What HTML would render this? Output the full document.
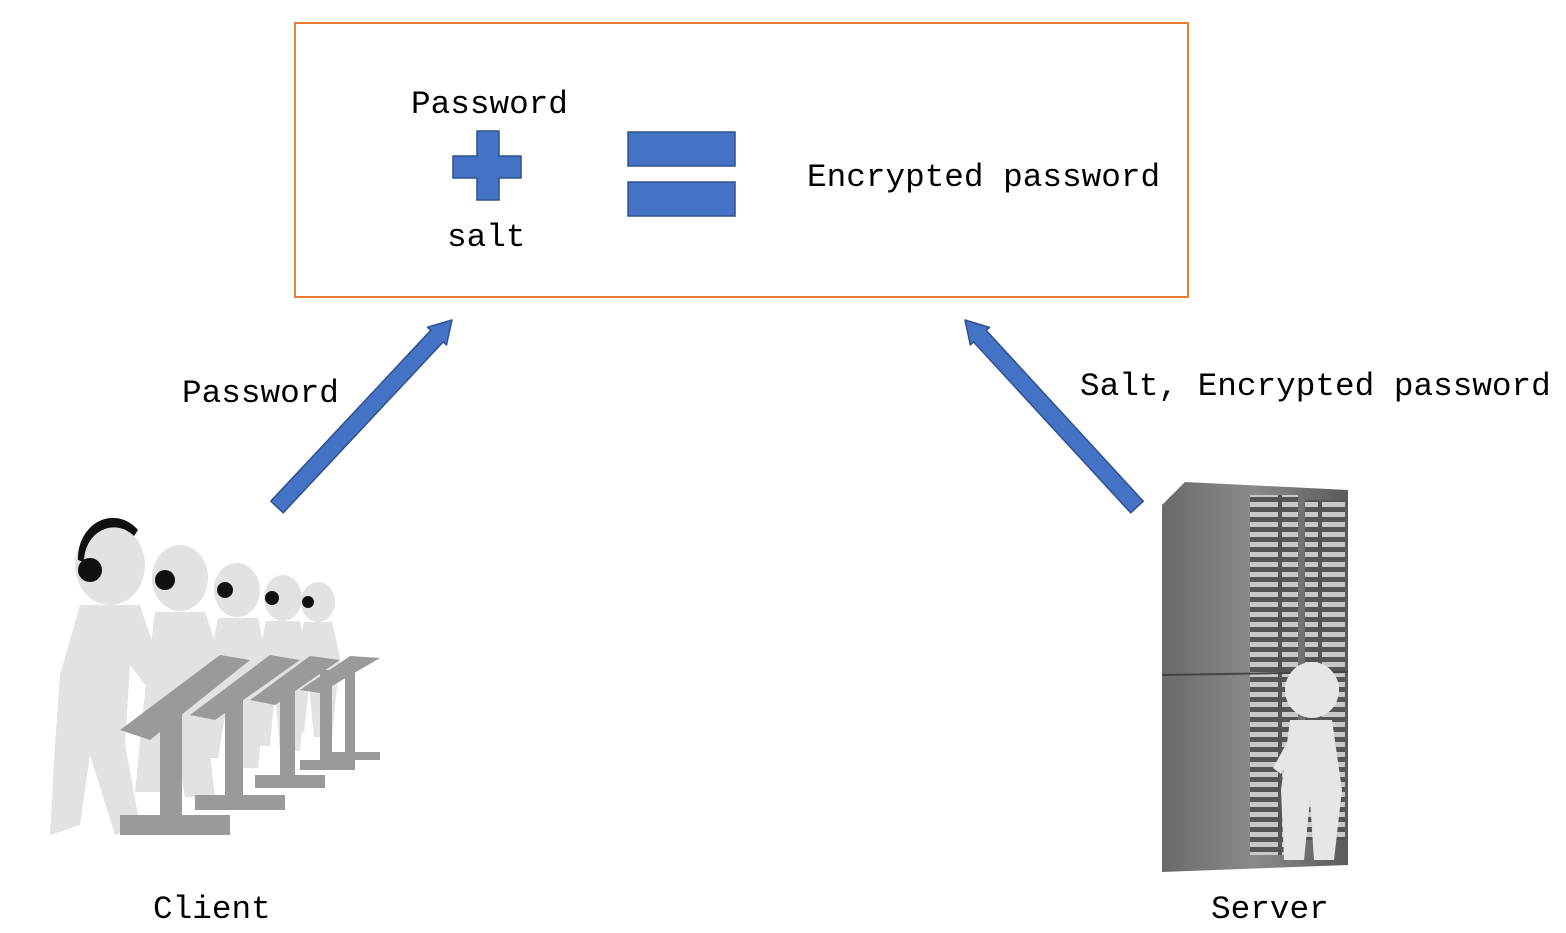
<!DOCTYPE html>
<html><head><meta charset="utf-8"><style>
body{margin:0;background:#fff;width:1566px;height:933px;overflow:hidden;position:relative}
.t{position:absolute;font-family:"Liberation Mono",monospace;font-size:32.7px;color:#000;white-space:nowrap;line-height:1}
</style></head><body>
<svg width="1566" height="933" style="position:absolute;left:0;top:0">
<defs>
<linearGradient id="rack" x1="0" x2="1"><stop offset="0" stop-color="#6a6a6a"/><stop offset="0.5" stop-color="#8a8a8a"/><stop offset="1" stop-color="#5a5a5a"/></linearGradient>
<pattern id="slots" width="40" height="10" patternUnits="userSpaceOnUse"><rect width="40" height="10" fill="#555"/><rect x="2" y="2" width="36" height="5" fill="#c8c8c8"/></pattern>
</defs>
<rect x="295" y="23" width="893" height="274" fill="none" stroke="#ed7d31" stroke-width="2"/>
<path d="M477 131h22v25h22v22h-22v22h-22v-22h-24v-22h24z" fill="#4472c4" stroke="#2f528f" stroke-width="1.5"/>
<rect x="628" y="132" width="107" height="34" fill="#4472c4" stroke="#2f528f" stroke-width="1.5"/>
<rect x="628" y="182" width="107" height="34" fill="#4472c4" stroke="#2f528f" stroke-width="1.5"/>
<polygon points="283.2,512.8 443.2,341.9 446.5,345 452,320 427.5,327.2 430.8,330.3 270.8,501.2" fill="#4472c4" stroke="#2f528f" stroke-width="1.5" stroke-linejoin="round"/>
<polygon points="1143.3,501.2 986.2,330.4 989.5,327.4 965,320 970.3,345 973.6,342 1130.7,512.8" fill="#4472c4" stroke="#2f528f" stroke-width="1.5" stroke-linejoin="round"/>
<polygon points="1162,505 1185,482 1348,490 1348,865 1162,872" fill="url(#rack)"/>
<rect x="1250" y="495" width="48" height="360" fill="url(#slots)"/>
<rect x="1305" y="500" width="40" height="340" fill="url(#slots)"/>
<line x1="1162" y1="675" x2="1348" y2="672" stroke="#444" stroke-width="2"/>
<g fill="#e6e6e6">
<ellipse cx="1312" cy="690" rx="27" ry="28"/>
<path d="M1290 720h42l10 70l-8 70h-20l-4-60l-6 60h-20l-3-70z"/>
<path d="M1295 728l-22 40l8 6l22-34z"/>
</g>
<g fill="#e2e2e2">
<ellipse cx="110" cy="565" rx="35" ry="40"/>
<path d="M80 605h60l20 60l-15 20l-15-20l-5 80l15 80l-25 10l-25-80l-10 70l-30 10l5-90l5-70z"/>
<ellipse cx="180" cy="578" rx="28" ry="33"/>
<path d="M155 612h50l15 45l-15 55l10 85h-30l-15-85l-10 80h-25l10-100z"/>
<ellipse cx="237" cy="590" rx="23" ry="27"/>
<path d="M218 618h40l10 50l-10 100h-25l-5-70l-10 60h-20l10-90z"/>
<ellipse cx="283" cy="598" rx="19" ry="23"/>
<path d="M266 621h34l8 40l-8 90h-20l-5-60l-5 55h-18l5-80z"/>
<ellipse cx="318" cy="602" rx="17" ry="20"/>
<path d="M304 622h28l8 35l-8 80h-18l-5-50l-5 45h-14l5-70z"/>
</g>
<g fill="#111"><path d="M78 560a35 40 0 0 1 60-30l-4 6a30 34 0 0 0-50 26z"/><circle cx="90" cy="570" r="12"/>
<circle cx="165" cy="580" r="10"/><circle cx="225" cy="590" r="8"/><circle cx="272" cy="598" r="7"/><circle cx="308" cy="602" r="6"/></g>
<g fill="#9a9a9a">
<polygon points="120,730 220,655 250,660 150,740"/><rect x="160" y="700" width="22" height="120"/><rect x="120" y="815" width="110" height="20"/>
<polygon points="190,715 270,655 300,660 215,720"/><rect x="225" y="690" width="18" height="110"/><rect x="195" y="795" width="90" height="15"/>
<polygon points="250,700 310,656 340,660 275,705"/><rect x="280" y="680" width="15" height="100"/><rect x="255" y="775" width="70" height="13"/>
<polygon points="300,690 350,656 380,658 320,693"/><rect x="320" y="670" width="12" height="95"/><rect x="300" y="760" width="55" height="10"/>
<rect x="345" y="665" width="10" height="90"/><rect x="330" y="752" width="50" height="8"/>
</g>
</svg>
<div class="t" style="left:411px;top:89px">Password</div>
<div class="t" style="left:447px;top:222px">salt</div>
<div class="t" style="left:807px;top:162px">Encrypted password</div>
<div class="t" style="left:182px;top:378px">Password</div>
<div class="t" style="left:1080px;top:371px">Salt, Encrypted password</div>
<div class="t" style="left:153px;top:894px">Client</div>
<div class="t" style="left:1211px;top:894px">Server</div>
</body></html>
